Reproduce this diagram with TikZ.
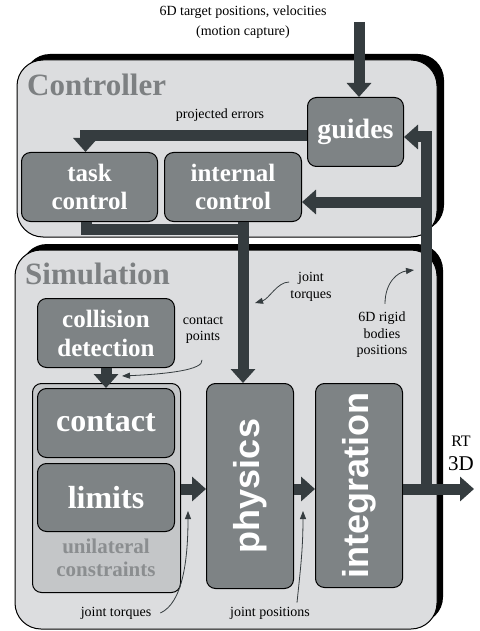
\documentclass[tikz,border=0pt]{standalone}
\usepackage{fontspec}
\setmainfont{Liberation Serif}
\newfontfamily\hvfont{Liberation Sans}
\usetikzlibrary{arrows.meta}
\usetikzlibrary{calc}
\definecolor{panel}{RGB}{220,221,223}
\definecolor{boxgrey}{RGB}{126,131,133}
\definecolor{shade}{RGB}{196,198,200}
\definecolor{ink}{RGB}{53,60,63}
\definecolor{titlegrey}{RGB}{125,128,130}
\definecolor{sublabel}{RGB}{139,142,144}

\begin{document}
\begin{tikzpicture}[x=1pt,y=1pt,yscale=-1,
  block/.style={draw=black,line width=1pt,rounded corners=9pt,fill=boxgrey,text=white,anchor=north west,align=center,inner sep=0pt,font=\bfseries\fontsize{25}{28}\selectfont},
  vlabel/.style={rotate=90,text=white,inner sep=0pt,font=\hvfont\bfseries\fontsize{36}{36}\selectfont},
  bar/.style={draw=ink,line width=11pt,-{Triangle[length=14pt,width=24pt]}},
  plainbar/.style={draw=ink,line width=11pt},
  note/.style={draw=ink,line width=0.8pt,-{Triangle[length=8pt,width=6pt]}},
  small/.style={align=center,inner sep=0pt,font=\fontsize{14}{16.5}\selectfont}]
\useasboundingbox (0,0) rectangle (479,631);

%Shape: Controller panel
\fill [black, rounded corners=26pt] (24,54) rectangle (444,231);
\draw [fill=panel, line width=1pt, rounded corners=26pt] (17,60) rectangle (437,237);
%Shape: Simulation panel
\fill [black, rounded corners=26pt] (21,244) rectangle (443,623);
\draw [fill=panel, line width=1pt, rounded corners=26pt] (15,250) rectangle (437,629);

% Text Node
\node (ctrltitle) [anchor=base west, inner sep=0pt, text=titlegrey, font=\bfseries\fontsize{31}{31}\selectfont] at (27,96) {Controller};
% Text Node
\node (simtitle) [anchor=base west, inner sep=0pt, text=titlegrey, font=\bfseries\fontsize{31}{31}\selectfont] at (25,284) {Simulation};
% Text Node
\node (target) [small, font=\fontsize{14}{20}\selectfont] at (243,22) {6D target positions, velocities\\(motion capture)};
% Text Node
\node (projerr) [small] at (220,115) {projected errors};

%Shape: Blocks
\node (guides) [block, minimum width=96pt, minimum height=69pt, font=\bfseries\fontsize{28}{30}\selectfont] at (307,97) {guides};
\node (task) [block, minimum width=136pt, minimum height=69pt] at (21,152) {task\\control};
\node (internal) [block, minimum width=137pt, minimum height=69pt] at (164,152) {internal\\control};
\node (coll) [block, minimum width=137pt, minimum height=69pt, font=\bfseries\fontsize{25}{29}\selectfont] at (37,298) {collision\\detection};
\node (unil) [block, fill=shade, minimum width=148pt, minimum height=209pt] at (32,383) {};
\node (contact) [block, minimum width=137pt, minimum height=69pt, font=\bfseries\fontsize{32}{34}\selectfont] at (37,388) {contact};
\node (limits) [block, minimum width=137pt, minimum height=68pt, font=\bfseries\fontsize{32}{34}\selectfont] at (37,463) {limits};
\node (unillabel) [align=center, inner sep=0pt, text=sublabel, font=\bfseries\fontsize{21}{23}\selectfont] at (106,558) {unilateral\\constraints};
\node (physics) [block, minimum width=87pt, minimum height=205pt] at (206,383) {};
\node (physlabel) [vlabel] at (physics.center) {physics};
\node (integ) [block, minimum width=87pt, minimum height=204pt] at (315,383) {};
\node (integlabel) [vlabel] at (integ.center) {integration};

% Text Node
\node (jtq) [small] at (311,287) {joint\\torques};
\node (cpt) [small] at (203,330) {contact\\points};
\node (rigid) [small] at (382,335) {6D rigid\\bodies\\positions};
\node (jtbot) [small] at (116,613) {joint torques};
\node (jpos) [small] at (270,613) {joint positions};
\node (rtlabel) [align=center, inner sep=0pt, font=\fontsize{16}{24}\selectfont] at (461,453) {RT\\{\fontsize{21}{24}\selectfont 3D}};

%Straight Lines: thick flow
\coordinate (mocap) at (359,22);
\draw [bar] (mocap) -- (mocap |- guides.north);
\draw [bar] ($(guides.west)+(0,4)$) -| ([xshift=-4pt]task.north);
\coordinate (drop) at ($(internal.south)+(10,0)$);
\draw [plainbar] ([xshift=-3pt]task.south) |- ($(drop)+(0,7)$);
\draw [bar] (drop) -- (drop |- physics.north);
\draw [bar] (coll.south) -- (contact.north);
\coordinate (flow) at (0,489);
\draw [bar] (unil.east |- flow) -- (physics.west |- flow);
\draw [bar] (physics.east |- flow) -- (integ.west |- flow);
\coordinate (rt) at (474,489);
\draw [bar] (integ.east |- rt) -- (rt);
\coordinate (feedback) at (426,489);
\coordinate (ctl) at (0,202);
\draw [bar] (feedback) |- ($(guides.east)+(0,5)$);
\draw [bar] (feedback |- ctl) -- (internal.east |- ctl);

%Curve Lines: notes
\coordinate (jtqtip) at (255,303);
\draw [note] ($(jtq.west)+(-1,-5)$) .. controls +(-12,0) and +(14,-4) .. (jtqtip);
\coordinate (cptip) at (122,376);
\draw [note] ($(cpt.south)+(-1,16)$) .. controls +(2,10) and +(45,-2) .. (cptip);
\coordinate (rigidtip) at (414,270);
\draw [note] ($(rigid.north)+(3,-8)$) .. controls +(0,-22) and +(-16,2) .. (rigidtip);
\coordinate (jtbtip) at (188,511);
\draw [note] ($(jtbot.east)+(9,0)$) .. controls +(22,-10) and +(0,50) .. (jtbtip);
\coordinate (jpostip) at (303,511);
\draw [note] ($(jpos.north)+(27,-4)$) .. controls +(3,-30) and +(0,40) .. (jpostip);

\end{tikzpicture}
\end{document}
